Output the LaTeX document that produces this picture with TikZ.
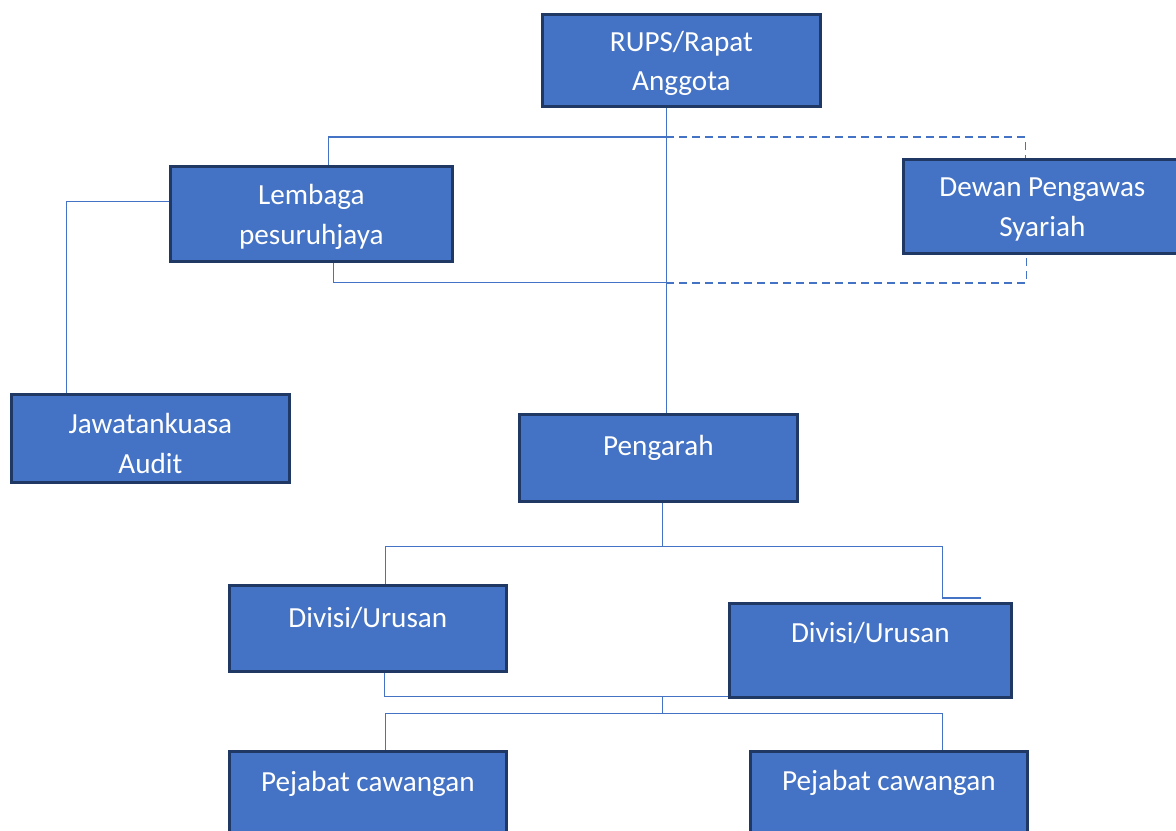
\documentclass[tikz,border=0pt]{standalone}
\usepackage{fontspec}
\setmainfont{Carlito}
\usetikzlibrary{backgrounds}
\definecolor{biru}{RGB}{68,114,196}
\definecolor{garis}{RGB}{32,56,100}
\begin{document}
\begin{tikzpicture}[x=0.02cm, y=-0.02cm]
      \tikzset{kotak/.style={draw=garis, line width=1.6pt, fill=biru, inner sep=0pt,
                 minimum width=5.56cm, anchor=north west},
               tulis/.style={text=white, align=center, inner sep=0pt, font=\fontsize{16.6}{22.4}\selectfont},
               link/.style={draw=biru, line width=0.6pt},
               putus/.style={draw=biru, line width=0.9pt, dash pattern=on 0.16cm off 0.1cm}}
      \useasboundingbox (0,0) rectangle (1176,831);
      \clip (0,0) rectangle (1176,831);
%% Kotak
	%atas
      	\node[kotak, minimum height=1.84cm, label={[tulis, yshift=-0.06cm]center:RUPS/Rapat\\Anggota}] (rups) at (541,13) {};
     	\node[kotak, minimum width=5.64cm, minimum height=1.9cm, label={[tulis, yshift=-0.06cm]center:Lembaga\\pesuruhjaya}] (lembaga) at (169,165) {};
     	\node[kotak, minimum height=1.88cm, label={[tulis, yshift=-0.06cm]center:Dewan Pengawas\\Syariah}] (dewan) at (902,158) {};
     	\node[kotak, minimum height=1.76cm, label={[tulis, yshift=-0.1cm]center:Jawatankuasa\\Audit}] (jawatan) at (10,393) {};
	%bawah
		\node[kotak, minimum height=1.74cm, label={[tulis, yshift=0.2cm]center:Pengarah}] (pengarah) at (518,413) {};
     	\node[kotak, minimum width=5.54cm, minimum height=1.72cm, label={[tulis, yshift=0.2cm]center:Divisi/Urusan}] (divisiA) at (228,584) {};
     	\node[kotak, minimum width=5.64cm, minimum height=1.88cm, label={[tulis, yshift=0.34cm]center:Divisi/Urusan}] (divisiB) at (728,602) {};
     	\node[kotak, minimum width=5.54cm, minimum height=1.74cm, label={[tulis, yshift=0.22cm]center:Pejabat cawangan}] (pejabatA) at (228,750) {};
     	\node[kotak, minimum width=5.54cm, minimum height=1.74cm, label={[tulis, yshift=0.25cm]center:Pejabat cawangan}] (pejabatB) at (749,750) {};
%Garis
	\begin{scope}[on background layer]
	%atas
		\path [link] (rups.south) ++(-15,0) coordinate (r1) -- (r1 |- pengarah.north);
		\path [link] ([xshift=0.34cm]lembaga.north) -- ++(0,-28) coordinate (l1) -- (l1 -| r1);
		\path [putus] (l1 -| r1) -| ([xshift=-0.34cm]dewan.north);
		\path [link] ([xshift=0.44cm]lembaga.south) -- ++(0,20) coordinate (l2) -- (l2 -| r1);
		\path [putus] (l2 -| r1) -| ([xshift=-0.32cm]dewan.south);
		\path [link] ([yshift=0.25cm]lembaga.west) -| ([xshift=-1.68cm]jawatan.north);
	%bawah
		\path [link] ([xshift=0.08cm]pengarah.south) -- ++(0,44) coordinate (p1);
		\path [link] ([xshift=0.35cm]divisiA.north) |- (p1) -| ([xshift=1.44cm, yshift=0.08cm]divisiB.north)
		             -- ([xshift=2.22cm, yshift=0.08cm]divisiB.north);
		\path [link] ([xshift=0.33cm]divisiA.south) -- ++(0,24) coordinate (d1) -- ([xshift=1.4cm]d1 -| divisiB.south);
		\path [link] (d1 -| p1) -- ++(0,17) coordinate (d2);
		\path [link] ([xshift=0.35cm]pejabatA.north) |- (d2) -| ([xshift=1.07cm]pejabatB.north);
	\end{scope}

	\end{tikzpicture}
\end{document}
